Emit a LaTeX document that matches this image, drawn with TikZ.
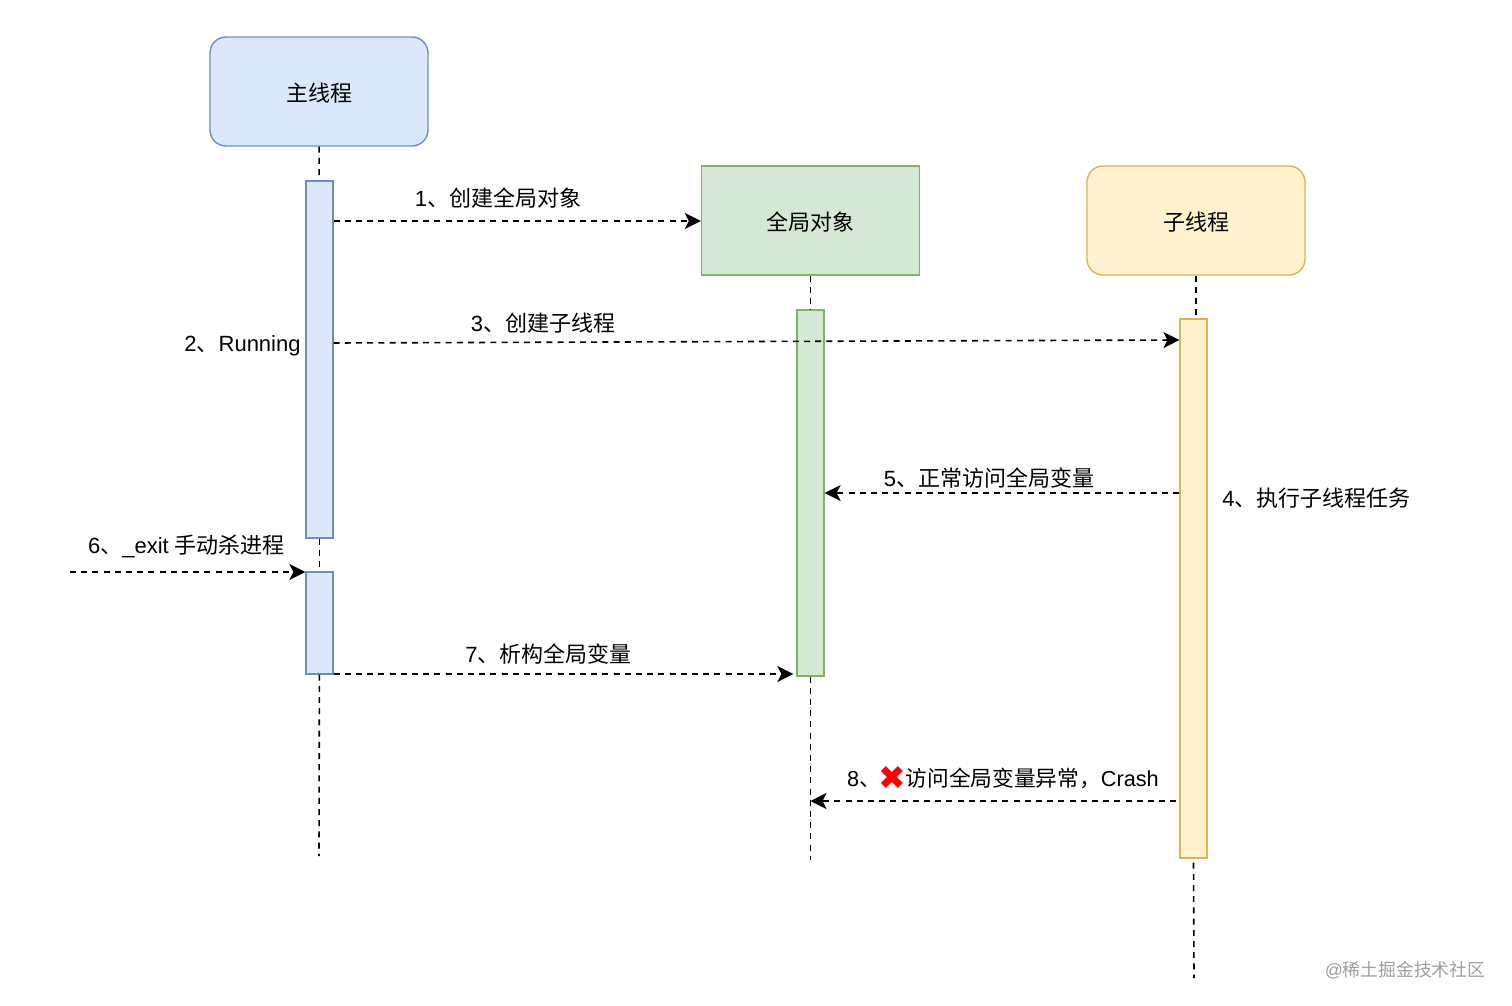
\documentclass[tikz,border=0pt]{standalone}
\usepackage{fontspec}
\usetikzlibrary{arrows.meta,positioning}
\setmainfont{Liberation Sans}
\newfontfamily\cjk{Noto Sans CJK SC}
\newfontfamily\dejavu{DejaVu Sans}
\definecolor{bluefill}{HTML}{DAE8FC}
\definecolor{blueline}{HTML}{6C8EBF}
\definecolor{greenfill}{HTML}{D5E8D4}
\definecolor{greenline}{HTML}{82B366}
\definecolor{yellowfill}{HTML}{FFF2CC}
\definecolor{yellowline}{HTML}{D6B656}

\begin{document}
\begin{tikzpicture}[
  x=0.5pt, y=-0.5pt,
  box/.style={draw, line width=0.7pt, minimum width=109pt, minimum height=54.5pt,
              inner sep=0pt, font=\fontsize{11}{13}\selectfont\cjk},
  bar/.style={draw, line width=0.6pt, minimum width=13.5pt, inner sep=0pt},
  lifeline/.style={black, line width=0.8pt, dash pattern=on 3pt off 2.6pt},
  arrow/.style={-{Stealth[length=8pt, width=8pt, inset=2pt]}, black, line width=0.8pt,
                dash pattern=on 3pt off 2.6pt},
  msg/.style={inner sep=0pt, font=\fontsize{11}{13}\selectfont}
]
\useasboundingbox (0,0) rectangle (1512,1006);

% --- Heads ---
\node[box, rounded corners=8pt, fill=bluefill, draw=blueline] (mainhead) at (319,91.5) {\raisebox{-0.6pt}[\height][\depth]{主线程}};
\node[box, fill=greenfill, draw=greenline] (globalhead) at (810.5,220.5) {\raisebox{-0.6pt}[\height][\depth]{全局对象}};
\node[box, rounded corners=8pt, fill=yellowfill, draw=yellowline] (subhead) at (1196,220.5) {\raisebox{-0.6pt}[\height][\depth]{子线程}};

% --- Activation bars ---
\node[bar, fill=bluefill, draw=blueline, minimum height=178.5pt] (mainbarone) at (319.5,359.5) {};
\node[bar, fill=bluefill, draw=blueline, minimum height=51pt] (mainbartwo) at (319.5,623) {};
\node[bar, fill=greenfill, draw=greenline, minimum height=183pt] (globalbar) at (810.5,493) {};
\node[bar, fill=yellowfill, draw=yellowline, minimum height=269.5pt] (subbar) at (1193.5,588.5) {};

% Free ends
\coordinate (mainend) at (319,856);
\coordinate (globalend) at (810.5,860);
\coordinate (subend) at (1194,978);
\coordinate (exitstart) at (70,572);

% Lifelines
\draw[lifeline] (mainhead) -- (mainbarone);
\draw[lifeline] (mainbarone) -- (mainbartwo);
\draw[lifeline] (mainbartwo) -- (mainend);
\draw[lifeline] (globalhead) -- (globalbar);
\draw[lifeline] (globalbar) -- (globalend);
\draw[lifeline] (subhead.south) -- (subbar.north -| subhead.south);
\draw[lifeline] (subbar.south) ++(0,4) -- (subend);

% Arrows
\draw[arrow] (mainbarone.east |- 0,221) -- (globalhead.west |- 0,221);
\draw[arrow] (mainbarone.east |- 0,343) -- (subbar.west |- 0,340);
\draw[arrow] (subbar.west |- globalbar) -- (globalbar.east);
\draw[arrow] (exitstart) -- (mainbartwo.west |- 0,572);
\draw[arrow, shorten >=1.5pt] (mainbartwo.east |- 0,674) -- (globalbar.west |- 0,674);
\draw[arrow, shorten <=1.5pt] (subbar.west |- 0,801) -- (globalbar.south |- 0,801);

% Labels
\node[msg] (msgone) at (498,198) {1{\cjk 、创建全局对象}};
\node[msg] (msgtwo) at (242.5,345.5) {2{\cjk 、}Running};
\node[msg] (msgthree) at (543,323) {3{\cjk 、创建子线程}};
\node[msg] (msgfour) at (1316.5,498) {4{\cjk 、执行子线程任务}};
\node[msg] (msgfive) at (989,478) {5{\cjk 、正常访问全局变量}};
\node[msg] (msgsix) at (186.5,546) {6{\cjk 、}\_exit {\cjk 手动杀进程}};
\node[msg] (msgseven) at (548.5,654) {7{\cjk 、析构全局变量}};
\node[msg, font=\fontsize{10.85}{13}\selectfont] (msgeight) at (1003,776) {8{\cjk 、}\kern-1pt\raisebox{-1.6pt}[\height][\depth]{\dejavu\color{red}\fontsize{16.5}{13}\selectfont ✖}\kern-0.5pt{\cjk 访问全局变量异常，}Crash};
\node[inner sep=0pt, text=black!38, font=\fontsize{8.9}{11}\selectfont] (mark) at (1405,970) {@{\cjk 稀土掘金技术社区}};

\end{tikzpicture}
\end{document}
